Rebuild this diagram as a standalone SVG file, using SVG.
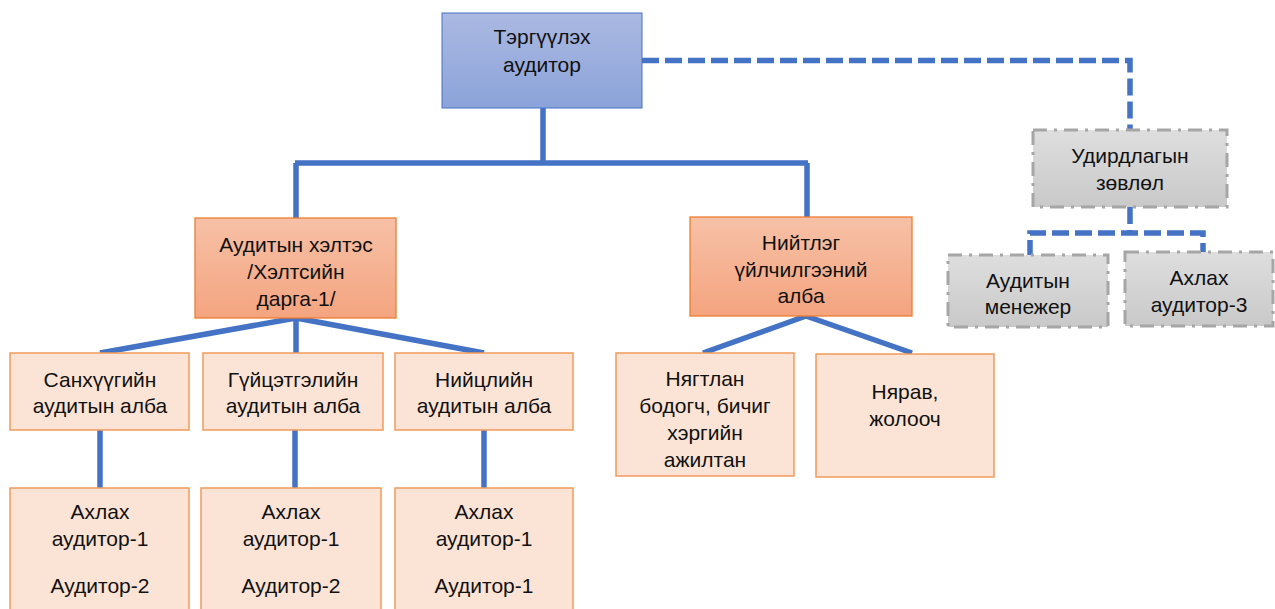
<svg xmlns="http://www.w3.org/2000/svg" width="1275" height="609" viewBox="0 0 1275 609">
<defs>
<linearGradient id="gBlue" x1="0" y1="0" x2="0" y2="1">
<stop offset="0" stop-color="#abb9e2"/><stop offset="1" stop-color="#8ba3d9"/>
</linearGradient>
<linearGradient id="gOrange" x1="0" y1="0" x2="0" y2="1">
<stop offset="0" stop-color="#f7c1a7"/><stop offset="1" stop-color="#f4a47f"/>
</linearGradient>
<linearGradient id="gGray" x1="0" y1="0" x2="0" y2="1">
<stop offset="0" stop-color="#dedede"/><stop offset="1" stop-color="#c9c9c9"/>
</linearGradient>
<style>
.t{font-family:"Liberation Sans",Arial,sans-serif;font-size:21px;fill:#111;text-anchor:middle}
.top{fill:url(#gBlue);stroke:#4472c4;stroke-width:1}
.l1{fill:url(#gOrange);stroke:#ed7d31;stroke-width:1.3}
.l2{fill:#fbe4d5;stroke:#f19a5b;stroke-width:1.5}
.gr{fill:url(#gGray);stroke:#a6a6a6;stroke-width:3;stroke-dasharray:14 7 3 7}
.c{fill:none;stroke:#4472c4;stroke-width:5.5}
.d{fill:none;stroke:#4472c4;stroke-width:5.5;stroke-dasharray:17 6}
</style>
</defs>
<g id="connectors">
<path class="c" d="M543 108 V163 M295 163 H808 M296 163 V218 M807 163 V218"/>
<path class="c" d="M296 318 L100 353 M296 318 V356 M296 318 L484 353"/>
<path class="c" d="M806 316 L703 353 M806 316 L912 353"/>
<path class="c" d="M100 430 V488 M295 430 V488 M484 430 V488"/>
<path class="d" d="M642 60.5 H1130 V130"/>
<path class="d" d="M1130 207 V233 M1030 257 V233 H1203 V257"/>
</g>
<g id="n-top">
<rect class="top" x="442" y="13" width="200" height="95"/>
<text class="t" x="542" y="44">Тэргүүлэх</text>
<text class="t" x="542" y="72">аудитор</text>
</g>
<g id="n-council">
<rect class="gr" x="1033" y="130" width="194" height="77"/>
<text class="t" x="1130" y="163">Удирдлагын</text>
<text class="t" x="1130" y="190">зөвлөл</text>
</g>
<g id="n-manager">
<rect class="gr" x="948" y="255" width="160" height="72"/>
<text class="t" x="1028" y="288">Аудитын</text>
<text class="t" x="1028" y="314">менежер</text>
</g>
<g id="n-senior3">
<rect class="gr" x="1125" y="252" width="148" height="74"/>
<text class="t" x="1199" y="285">Ахлах</text>
<text class="t" x="1199" y="312">аудитор-3</text>
</g>
<g id="n-dept">
<rect class="l1" x="195" y="218" width="201" height="100"/>
<text class="t" x="296" y="252">Аудитын хэлтэс</text>
<text class="t" x="296" y="279">/Хэлтсийн</text>
<text class="t" x="296" y="306">дарга-1/</text>
</g>
<g id="n-general">
<rect class="l1" x="690" y="217" width="222" height="99"/>
<text class="t" x="801" y="250">Нийтлэг</text>
<text class="t" x="801" y="277">үйлчилгээний</text>
<text class="t" x="801" y="303">алба</text>
</g>
<g id="n-fin">
<rect class="l2" x="10" y="353" width="179" height="77"/>
<text class="t" x="100" y="387">Санхүүгийн</text>
<text class="t" x="100" y="413">аудитын алба</text>
</g>
<g id="n-perf">
<rect class="l2" x="203" y="353" width="180" height="77"/>
<text class="t" x="293" y="387">Гүйцэтгэлийн</text>
<text class="t" x="293" y="413">аудитын алба</text>
</g>
<g id="n-comp">
<rect class="l2" x="395" y="353" width="178" height="77"/>
<text class="t" x="484" y="387">Нийцлийн</text>
<text class="t" x="484" y="413">аудитын алба</text>
</g>
<g id="n-acc">
<rect class="l2" x="616" y="353" width="178" height="123"/>
<text class="t" x="705" y="386">Нягтлан</text>
<text class="t" x="705" y="413">бодогч, бичиг</text>
<text class="t" x="705" y="440">хэргийн</text>
<text class="t" x="705" y="467">ажилтан</text>
</g>
<g id="n-store">
<rect class="l2" x="816" y="354" width="178" height="123"/>
<text class="t" x="905" y="399">Нярав,</text>
<text class="t" x="905" y="426">жолооч</text>
</g>
<g id="n-fin-staff">
<rect class="l2" x="10" y="488" width="179" height="130"/>
<text class="t" x="100" y="519">Ахлах</text>
<text class="t" x="100" y="546">аудитор-1</text>
<text class="t" x="100" y="593">Аудитор-2</text>
</g>
<g id="n-perf-staff">
<rect class="l2" x="201" y="488" width="180" height="130"/>
<text class="t" x="291" y="519">Ахлах</text>
<text class="t" x="291" y="546">аудитор-1</text>
<text class="t" x="291" y="593">Аудитор-2</text>
</g>
<g id="n-comp-staff">
<rect class="l2" x="395" y="488" width="178" height="130"/>
<text class="t" x="484" y="519">Ахлах</text>
<text class="t" x="484" y="546">аудитор-1</text>
<text class="t" x="484" y="593">Аудитор-1</text>
</g>
</svg>
